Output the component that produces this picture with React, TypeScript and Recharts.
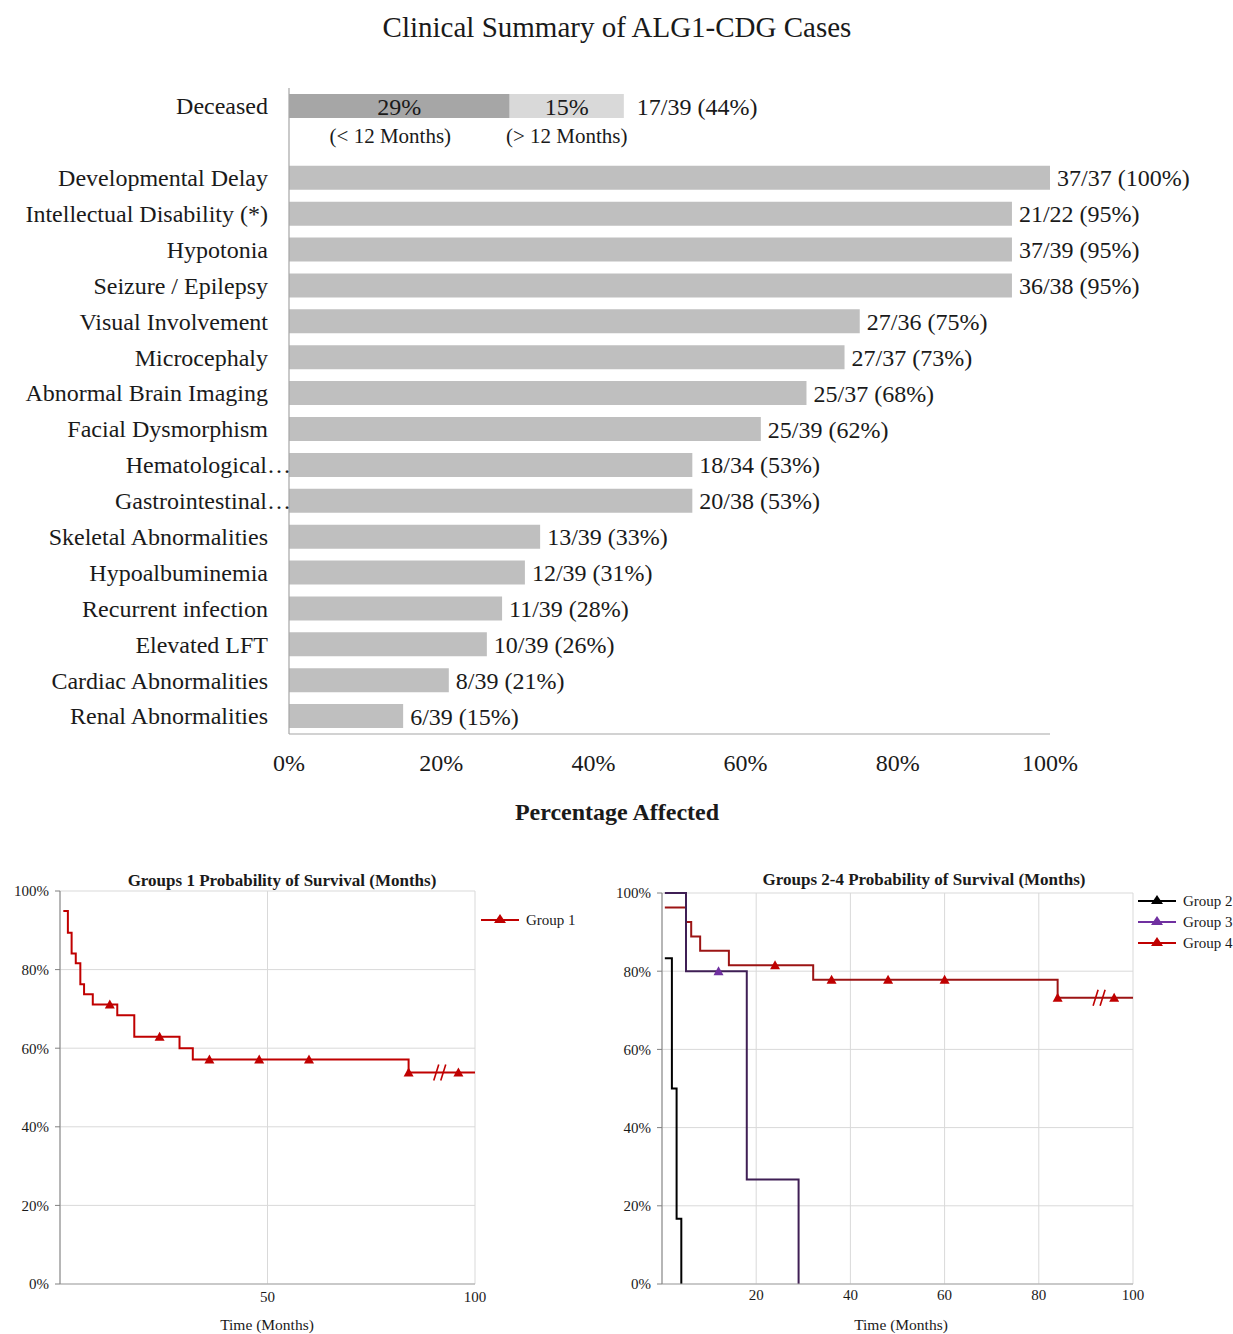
import React from 'react';
import {
  BarChart,
  Bar,
  XAxis,
  YAxis,
  LabelList,
  ComposedChart,
  Line,
  Scatter,
  CartesianGrid,
} from 'recharts';

const FONT = '"Liberation Serif", "Times New Roman", Times, serif';
const INK = '#1a1a1a';

// ---- Clinical features (bar chart) ----
const featureNames = [
  'Developmental Delay',
  'Intellectual Disability (*)',
  'Hypotonia',
  'Seizure / Epilepsy',
  'Visual Involvement',
  'Microcephaly',
  'Abnormal Brain Imaging',
  'Facial Dysmorphism',
  'Hematological…',
  'Gastrointestinal…',
  'Skeletal Abnormalities',
  'Hypoalbuminemia',
  'Recurrent infection',
  'Elevated LFT',
  'Cardiac Abnormalities',
  'Renal Abnormalities',
];
const featureAffected = [37, 21, 37, 36, 27, 27, 25, 25, 18, 20, 13, 12, 11, 10, 8, 6];
const featureTotal = [37, 22, 39, 38, 36, 37, 37, 39, 34, 38, 39, 39, 39, 39, 39, 39];
const featurePct = [100, 95, 95, 95, 75, 73, 68, 62, 53, 53, 33, 31, 28, 26, 21, 15];

// Deceased split by age at death
const deceasedLabel = 'Deceased';
const deceasedEarlyPct = 29;
const deceasedLatePct = 15;
const deceasedCount = 17;
const deceasedTotal = 39;
const deceasedPct = 44;
const deceasedEarlyCaption = '(< 12 Months)';
const deceasedLateCaption = '(> 12 Months)';

const pctTicks = [0, 20, 40, 60, 80, 100];

// ---- Survival curves (months, % surviving) ----
const group1Time = [0.8, 1.9, 2.8, 3.8, 4.9, 5.8, 7.9, 13.8, 17.9, 28.8, 32, 84, 100];
const group1Surv = [94.9, 89.4, 84.1, 81.6, 76.3, 73.7, 71.1, 68.4, 62.9, 60.0, 57.1, 53.8, 53.8];
const group1CensorTime = [12, 24, 36, 48, 60, 84, 96];
const group1CensorSurv = [71.1, 62.9, 57.1, 57.1, 57.1, 53.8, 53.8];
const group1BreakTime = 91.5;

const group2Time = [0.6, 2.1, 3.1, 4.1];
const group2Surv = [83.3, 50, 16.7, 0];

const group3Time = [0.6, 5.1, 18, 29];
const group3Surv = [100, 80, 26.7, 0];
const group3CensorTime = [12];
const group3CensorSurv = [80];

const group4Time = [0.6, 5.1, 6.2, 8.1, 14.2, 32.1, 84, 100];
const group4Surv = [96.3, 92.6, 88.9, 85.2, 81.5, 77.8, 73.2, 73.2];
const group4CensorTime = [24, 36, 48, 60, 84, 96];
const group4CensorSurv = [81.5, 77.8, 77.8, 77.8, 73.2, 73.2];
const group4BreakTime = 92.8;

const survTicks = [0, 20, 40, 60, 80, 100];
const group1XTicks = [50, 100];
const groups24XTicks = [20, 40, 60, 80, 100];

const RED = '#c00000';
const RED_DARK = '#9c1414';
const PURPLE = '#7030a0';
const PURPLE_DARK = '#3f1f55';

const toPoints = (ts: number[], vs: number[]) => ts.map((t, i) => ({ t, v: vs[i] }));

const barRows: any[] = [
  {
    name: deceasedLabel,
    early: deceasedEarlyPct,
    late: deceasedLatePct,
    earlyText: `${deceasedEarlyPct}%`,
    lateText: `${deceasedLatePct}%`,
    earlyCaption: deceasedEarlyCaption,
    lateCaption: deceasedLateCaption,
    totalText: `${deceasedCount}/${deceasedTotal} (${deceasedPct}%)`,
  },
  { name: '' },
  ...featureNames.map((name, i) => ({
    name,
    pct: featurePct[i],
    valueText: `${featureAffected[i]}/${featureTotal[i]} (${featurePct[i]}%)`,
  })),
];

const CategoryTick = (props: any) => {
  const { x, y, payload } = props;
  const label = String(payload?.value ?? '');
  const clipped = label.endsWith('…');
  return (
    <text
      x={clipped ? x + 23 : x}
      y={y}
      dy="0.35em"
      textAnchor="end"
      fontSize={24}
      fontFamily={FONT}
      fill={INK}
    >
      {label}
    </text>
  );
};

const boxOf = (p: any) => {
  const vb = p.viewBox && typeof p.viewBox.x === 'number' ? p.viewBox : p;
  return { x: Number(vb.x), y: Number(vb.y), width: Number(vb.width), height: Number(vb.height) };
};

// Caption drawn under a bar segment; shift nudges it sideways
const CaptionBelow = (p: any) => {
  if (!p.value) return null;
  const b = boxOf(p);
  const shift = Number(p.shift ?? 0);
  return (
    <text
      x={b.x + b.width / 2 + shift}
      y={b.y + b.height + 18}
      dy="0.35em"
      textAnchor="middle"
      fontSize={21}
      fontFamily={FONT}
      fill={INK}
    >
      {p.value}
    </text>
  );
};

const Triangle = (props: any) => {
  const { cx, cy, fill } = props;
  if (typeof cx !== 'number' || typeof cy !== 'number') return null;
  return <path d={`M${cx},${cy - 5} L${cx + 5},${cy + 4} L${cx - 5},${cy + 4} Z`} fill={fill} />;
};

const BreakMark = (props: any) => {
  const { cx, cy, stroke } = props;
  if (typeof cx !== 'number' || typeof cy !== 'number') return null;
  return (
    <g stroke={stroke} strokeWidth={1.6}>
      <line x1={cx - 6} y1={cy + 8} x2={cx - 1} y2={cy - 8} />
      <line x1={cx + 1} y1={cy + 8} x2={cx + 6} y2={cy - 8} />
    </g>
  );
};

const Overlay = ({
  x,
  y,
  size,
  bold,
  children,
}: {
  x: number;
  y: number;
  size: number;
  bold?: boolean;
  children: React.ReactNode;
}) => (
  <div
    style={{
      position: 'absolute',
      left: x,
      top: y,
      transform: 'translate(-50%, -50%)',
      fontFamily: FONT,
      fontSize: size,
      fontWeight: bold ? 700 : 400,
      color: INK,
      whiteSpace: 'nowrap',
      lineHeight: 1,
    }}
  >
    {children}
  </div>
);

const LegendItem = ({ x, y, color, label }: { x: number; y: number; color: string; label: string }) => (
  <div style={{ position: 'absolute', left: x, top: y - 8, height: 16, display: 'flex', alignItems: 'center' }}>
    <svg width={38} height={16}>
      <line x1={0} y1={8} x2={38} y2={8} stroke={color} strokeWidth={2.2} />
      <path d="M19,2 L25,11 L13,11 Z" fill={color} />
    </svg>
    <span style={{ marginLeft: 7, fontFamily: FONT, fontSize: 15, color: INK, lineHeight: 1 }}>{label}</span>
  </div>
);

const survTickStyle = { fontSize: 15, fontFamily: FONT, fill: INK };

const ClinicalBars = () => (
  <BarChart
    width={1233}
    height={794}
    data={barRows}
    layout="vertical"
    margin={{ top: 88, right: 183, bottom: 0, left: 0 }}
    barSize={24}
  >
    <XAxis
      type="number"
      domain={[0, 100]}
      ticks={pctTicks}
      tickFormatter={(v: number) => `${v}%`}
      tick={{ fontSize: 24, fontFamily: FONT, fill: INK }}
      tickLine={false}
      tickSize={0}
      tickMargin={20}
      axisLine={{ stroke: '#a6a6a6', strokeWidth: 1.2 }}
      height={60}
    />
    <YAxis
      type="category"
      dataKey="name"
      width={289}
      tick={<CategoryTick />}
      tickLine={false}
      tickSize={0}
      tickMargin={21}
      axisLine={{ stroke: '#a6a6a6', strokeWidth: 1.2 }}
      interval={0}
    />
    <Bar dataKey="early" stackId="s" fill="#a6a6a6" isAnimationActive={false}>
      <LabelList dataKey="earlyText" position="center" fontSize={24} fontFamily={FONT} fill={INK} />
      <LabelList dataKey="earlyCaption" content={<CaptionBelow shift={-9} />} />
    </Bar>
    <Bar dataKey="late" stackId="s" fill="#d9d9d9" isAnimationActive={false}>
      <LabelList dataKey="lateText" position="center" fontSize={24} fontFamily={FONT} fill={INK} />
      <LabelList dataKey="lateCaption" content={<CaptionBelow shift={0} />} />
      <LabelList dataKey="totalText" position="right" offset={13} fontSize={24} fontFamily={FONT} fill={INK} />
    </Bar>
    <Bar dataKey="pct" stackId="s" fill="#bfbfbf" isAnimationActive={false}>
      <LabelList dataKey="valueText" position="right" offset={7} fontSize={24} fontFamily={FONT} fill={INK} />
    </Bar>
  </BarChart>
);

const Group1Survival = () => (
  <ComposedChart width={600} height={474} margin={{ top: 31, right: 125, bottom: 0, left: 0 }}>
    <CartesianGrid stroke="#d9d9d9" />
    <XAxis
      type="number"
      dataKey="t"
      domain={[0, 100]}
      ticks={group1XTicks}
      allowDataOverflow
      height={50}
      tickLine={false}
      tickSize={0}
      tickMargin={7}
      axisLine={{ stroke: '#a6a6a6' }}
      tick={survTickStyle}
    />
    <YAxis
      type="number"
      domain={[0, 100]}
      ticks={survTicks}
      width={60}
      tickFormatter={(v: number) => `${v}%`}
      tickSize={5}
      tickMargin={6}
      axisLine={{ stroke: '#808080' }}
      tickLine={{ stroke: '#808080' }}
      tick={survTickStyle}
    />
    <Line
      data={toPoints(group1Time, group1Surv)}
      dataKey="v"
      type="stepAfter"
      stroke={RED}
      strokeWidth={2}
      dot={false}
      isAnimationActive={false}
    />
    <Scatter
      data={toPoints(group1CensorTime, group1CensorSurv)}
      dataKey="v"
      shape={<Triangle fill={RED} />}
      isAnimationActive={false}
    />
    <Scatter
      data={toPoints([group1BreakTime], [group1Surv[group1Surv.length - 1]])}
      dataKey="v"
      shape={<BreakMark stroke={RED} />}
      isAnimationActive={false}
    />
  </ComposedChart>
);

const Groups24Survival = () => (
  <ComposedChart width={633} height={474} margin={{ top: 33, right: 100, bottom: 0, left: 0 }}>
    <CartesianGrid stroke="#d9d9d9" />
    <XAxis
      type="number"
      dataKey="t"
      domain={[0, 100]}
      ticks={groups24XTicks}
      allowDataOverflow
      height={50}
      tickLine={false}
      tickSize={0}
      tickMargin={5}
      axisLine={{ stroke: '#a6a6a6' }}
      tick={survTickStyle}
    />
    <YAxis
      type="number"
      domain={[0, 100]}
      ticks={survTicks}
      width={62}
      tickFormatter={(v: number) => `${v}%`}
      tickSize={5}
      tickMargin={6}
      axisLine={{ stroke: '#808080' }}
      tickLine={{ stroke: '#808080' }}
      tick={survTickStyle}
    />
    <Line
      data={toPoints(group4Time, group4Surv)}
      dataKey="v"
      type="stepAfter"
      stroke={RED_DARK}
      strokeWidth={2}
      dot={false}
      isAnimationActive={false}
    />
    <Line
      data={toPoints(group3Time, group3Surv)}
      dataKey="v"
      type="stepAfter"
      stroke={PURPLE_DARK}
      strokeWidth={2}
      dot={false}
      isAnimationActive={false}
    />
    <Line
      data={toPoints(group2Time, group2Surv)}
      dataKey="v"
      type="stepAfter"
      stroke="#000000"
      strokeWidth={2}
      dot={false}
      isAnimationActive={false}
    />
    <Scatter
      data={toPoints(group4CensorTime, group4CensorSurv)}
      dataKey="v"
      shape={<Triangle fill={RED} />}
      isAnimationActive={false}
    />
    <Scatter
      data={toPoints(group3CensorTime, group3CensorSurv)}
      dataKey="v"
      shape={<Triangle fill={PURPLE} />}
      isAnimationActive={false}
    />
    <Scatter
      data={toPoints([group4BreakTime], [group4Surv[group4Surv.length - 1]])}
      dataKey="v"
      shape={<BreakMark stroke={RED} />}
      isAnimationActive={false}
    />
  </ComposedChart>
);

export default function App() {
  return (
    <div
      style={{
        position: 'absolute',
        left: 0,
        top: 0,
        width: 1233,
        height: 1334,
        background: '#ffffff',
        overflow: 'hidden',
      }}
    >
      <Overlay x={617} y={27} size={29}>
        Clinical Summary of ALG1-CDG Cases
      </Overlay>
      <div style={{ position: 'absolute', left: 0, top: 0 }}>
        <ClinicalBars />
      </div>
      <Overlay x={617} y={812} size={24} bold>
        Percentage Affected
      </Overlay>

      <Overlay x={282} y={880} size={17} bold>
        Groups 1 Probability of Survival (Months)
      </Overlay>
      <div style={{ position: 'absolute', left: 0, top: 860 }}>
        <Group1Survival />
      </div>
      <Overlay x={267} y={1325} size={15.5}>
        Time (Months)
      </Overlay>
      <LegendItem x={481} y={920} color={RED} label="Group 1" />

      <Overlay x={924} y={879} size={17} bold>
        Groups 2-4 Probability of Survival (Months)
      </Overlay>
      <div style={{ position: 'absolute', left: 600, top: 860 }}>
        <Groups24Survival />
      </div>
      <Overlay x={901} y={1325} size={15.5}>
        Time (Months)
      </Overlay>
      <LegendItem x={1138} y={901} color="#000000" label="Group 2" />
      <LegendItem x={1138} y={922} color={PURPLE} label="Group 3" />
      <LegendItem x={1138} y={943} color={RED} label="Group 4" />
    </div>
  );
}
